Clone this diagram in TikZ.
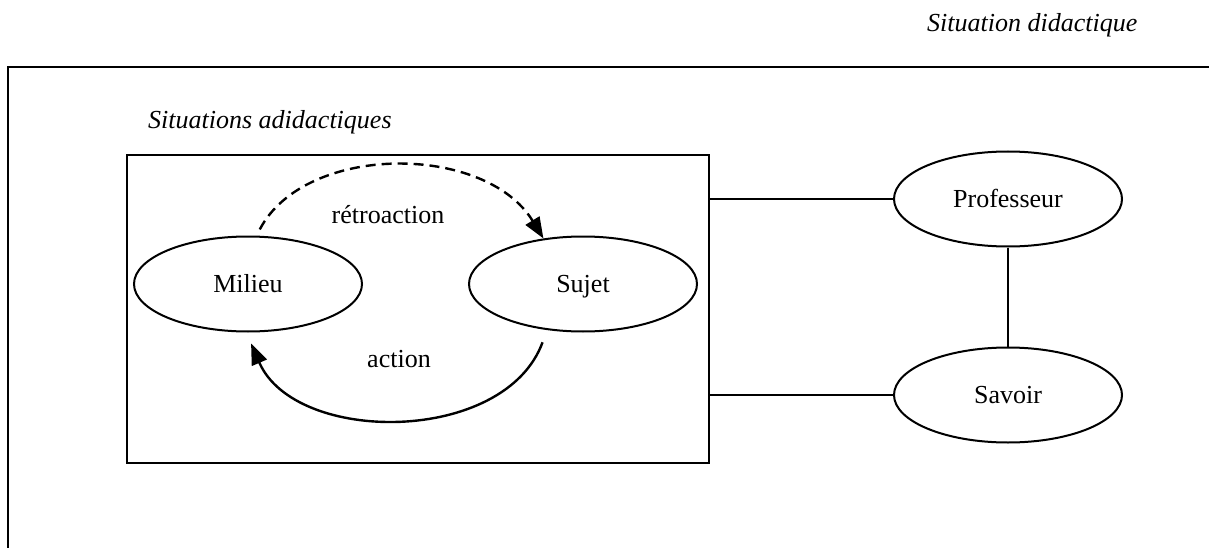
\documentclass[tikz,border=0pt]{standalone}
\usepackage{fontspec}
\setmainfont{Liberation Serif}
\usetikzlibrary{shapes.geometric,arrows.meta}
\begin{document}
\begin{tikzpicture}[x=1pt,y=-1pt,
  every node/.style={font=\fontsize{26}{31}\selectfont},
  ell/.style={draw,ellipse,line width=2pt,minimum width=228pt,minimum height=95pt,inner sep=0pt,text height=17pt,text depth=0pt},
  conn/.style={line width=2pt},
  frame/.style={line width=2.8pt},
  arr/.style={line width=2.4pt,-{Triangle[length=21pt,width=16pt]}},
  lbl/.style={anchor=base,inner sep=0pt}]
\useasboundingbox (0,0) rectangle (1209,548);
% outer frame (open)
\coordinate (fa) at (8,548);
\coordinate (fb) at (8,67);
\coordinate (fc) at (1209,67);
\draw[frame] (fa) -- (fb) -- (fc);
\node[anchor=base west,inner sep=0pt] (title) at (927,32) {\itshape Situation didactique};
\node[anchor=base west,inner sep=0pt] (sub) at (148,129) {\itshape Situations adidactiques};
% inner box
\node[draw,line width=2.4pt,minimum width=582pt,minimum height=308pt,inner sep=0pt] (inner) at (418,309) {};
% nodes
\node[ell] (milieu) at (248,284) {Milieu};
\node[ell] (sujet) at (583,284) {Sujet};
\node[ell] (prof) at (1008,199) {Professeur};
\node[ell] (savoir) at (1008,395) {Savoir};
% arrows
\draw[arr,dash pattern=on 10pt off 6pt,shorten <=7pt] (milieu.80) .. controls (305,143) and (485,143) .. (sujet.131);
\draw[arr,shorten <=13pt,shorten >=12pt] (sujet.232) .. controls (505,445) and (295,445) .. (milieu.268);
\node[lbl] (retro) at (388,223) {rétroaction};
\node[lbl] (act) at (399,367) {action};
% links
\draw[conn] (inner.east |- prof.west) -- (prof.west);
\draw[conn] (inner.east |- savoir.west) -- (savoir.west);
\draw[conn] (prof) -- (savoir);
\end{tikzpicture}
\end{document}
